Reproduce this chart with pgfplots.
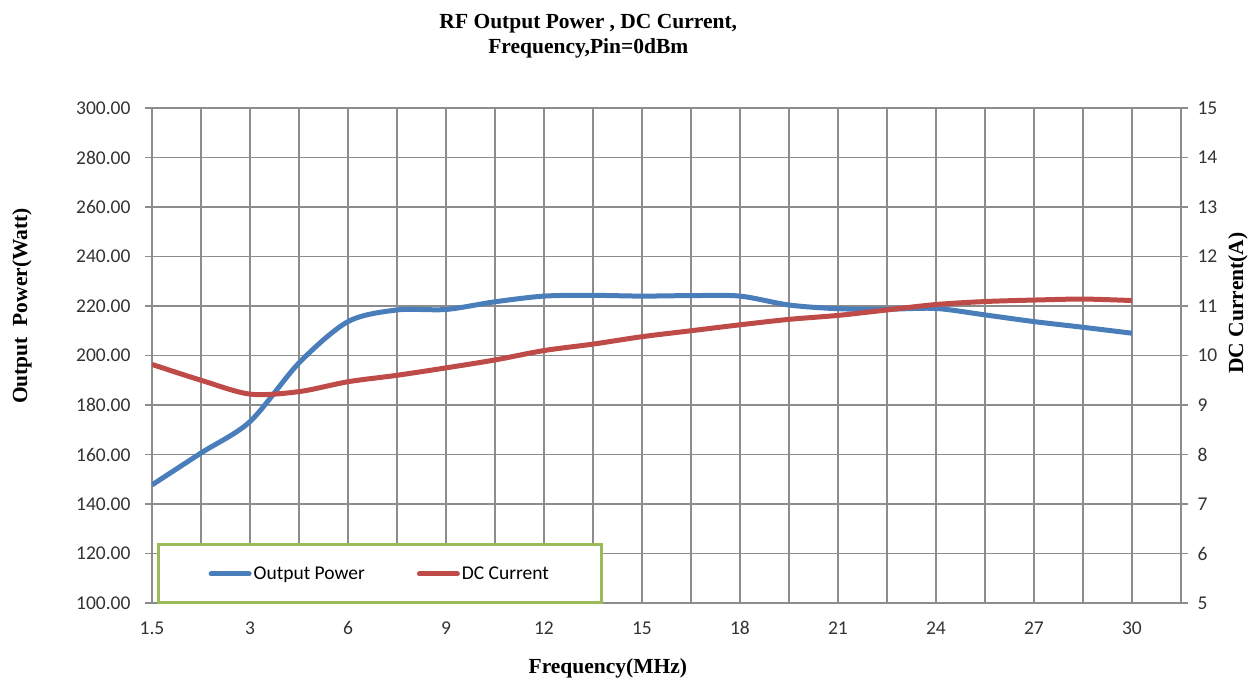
\documentclass[border=0pt]{standalone}
\usepackage{pgfplots}
\pgfplotsset{compat=1.18}
\usepackage{fontspec}
\setmainfont{Liberation Serif}
\newfontfamily\calibri{Carlito}
\definecolor{pblue}{HTML}{4A7EBB}
\definecolor{pred}{HTML}{BE4B48}
\definecolor{gridgray}{HTML}{8C8C8C}
\definecolor{lgreen}{HTML}{9BBB59}
\begin{document}
\begin{tikzpicture}
\useasboundingbox (-152pt,-80pt) rectangle (1096pt,603pt);
\pgfplotsset{
  common/.style={
    width=1029pt, height=495pt, scale only axis,
    xmin=0, xmax=21,
    xtick={0,...,21},
    xticklabels={1.5,,3,,6,,9,,12,,15,,18,,21,,24,,27,,30,},
    tick label style={font=\fontsize{19.5}{22}\selectfont\calibri, text=black!80},
    /pgf/number format/assume math mode=true,
    axis line style={gridgray, line width=1.2pt},
    tick style={gridgray, line width=1.2pt},
    tick align=outside,
    major tick length=7pt,
    xtick style={draw=none},
    xticklabel shift=8pt,
  }
}
\begin{axis}[common,
  ymin=100, ymax=300, ytick={100,120,...,300},
  yticklabel style={/pgf/number format/.cd, fixed, fixed zerofill, precision=2},
  yticklabel shift=11pt,
  grid=major, grid style={gridgray, line width=1.2pt},
  title={RF Output Power , DC Current,\\Frequency,Pin=0dBm},
  title style={font=\fontsize{21.5}{25}\selectfont\bfseries, align=center,
    at={(axis description cs:0.424,1)}, anchor=center, yshift=65.5pt},
  xlabel={Frequency(MHz)},
  xlabel style={font=\fontsize{21.5}{25}\selectfont\bfseries,
    at={(axis description cs:0.443,0)}, anchor=center, yshift=-65pt},
  ylabel={Output~~Power(Watt)},
  ylabel style={font=\fontsize{21.5}{25}\selectfont\bfseries,
    at={(axis description cs:-0.1263,0.6)}, anchor=center},
]
\addplot[pblue, line width=5pt, smooth] coordinates {
(0,147.7) (1,160.6) (2,173.3) (3,197.0) (4,213.7) (5,218.4) (6,218.6)
(7,221.7) (8,224.0) (9,224.3) (10,224.0) (11,224.2) (12,224.0) (13,220.4)
(14,218.9) (15,218.7) (16,219.0) (17,216.4) (18,213.7) (19,211.4) (20,209.0)
};
\end{axis}
\begin{axis}[common,
  axis y line*=right, axis x line=none,
  ymin=5, ymax=15, ytick={5,6,...,15},
  yticklabel shift=6pt,
  ylabel={DC Current(A)},
  ylabel style={font=\fontsize{21.5}{25}\selectfont\bfseries,
    at={(axis description cs:1.0554,0.606)}, anchor=center},
  legend columns=2,
  legend style={at={(axis description cs:0.005,-0.003)}, anchor=south west,
    draw=lgreen, line width=3pt, fill=white,
    font=\fontsize{19.5}{22}\selectfont\calibri,
    inner xsep=50pt, inner ysep=20pt,
    /tikz/every even column/.append style={column sep=50pt}},
  legend image code/.code={\draw[#1, line width=5pt, line cap=round] (0pt,0pt) -- (38pt,0pt);},
]
\addlegendimage{pblue, line width=5pt}
\addlegendentry{Output Power}
\addplot[pred, line width=5pt, smooth] coordinates {
(0,9.82) (1,9.50) (2,9.22) (3,9.27) (4,9.47) (5,9.60) (6,9.75)
(7,9.91) (8,10.10) (9,10.23) (10,10.38) (11,10.50) (12,10.62) (13,10.73)
(14,10.81) (15,10.92) (16,11.03) (17,11.09) (18,11.12) (19,11.14) (20,11.11)
};
\addlegendentry{DC Current}
\end{axis}
\end{tikzpicture}
\end{document}
